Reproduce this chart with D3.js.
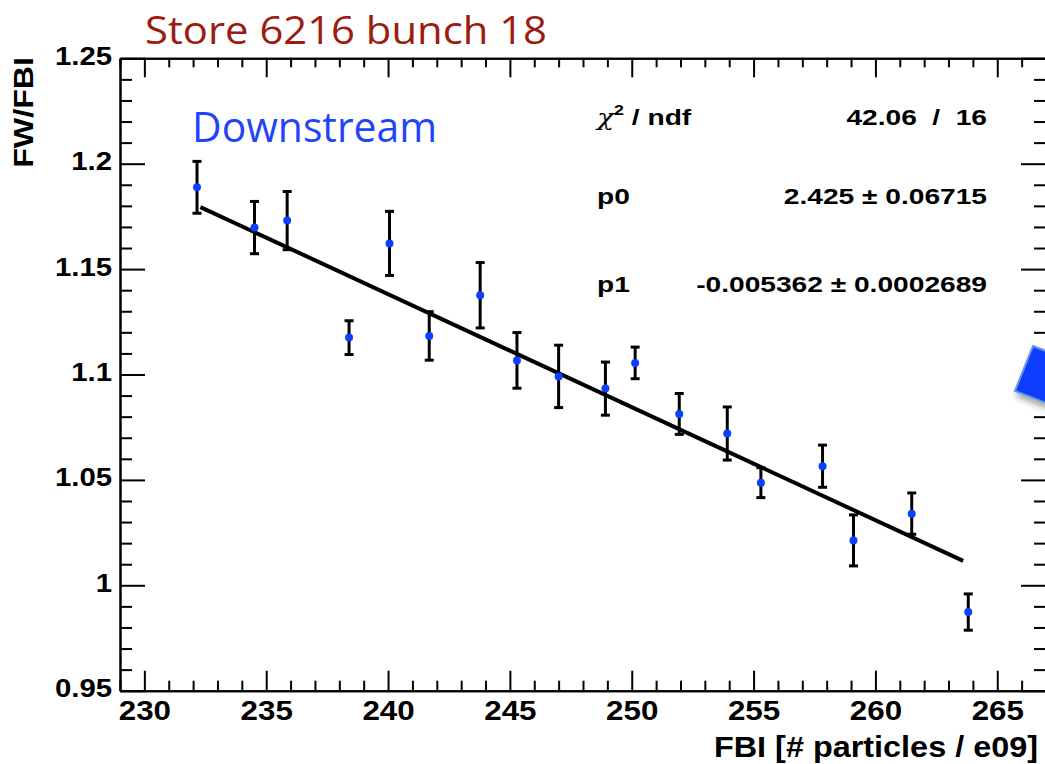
<!DOCTYPE html>
<html>
<head>
<meta charset="utf-8">
<script src="https://cdn.jsdelivr.net/npm/d3@7"></script>
<style>
  html, body { margin: 0; padding: 0; background: #fff; }
  svg { display: block; }
</style>
</head>
<body>
<svg id="chart" width="1045" height="764"></svg>
<script>
// ---- data ----
const fbi   = [232.16, 234.52, 235.86, 238.40, 240.06, 241.69, 243.78, 245.29, 247.00,
               248.92, 250.14, 251.95, 253.92, 255.30, 257.83, 259.10, 261.49, 263.81];
const ratio = [1.1888, 1.1697, 1.1730, 1.1175, 1.1622, 1.1183, 1.1376, 1.1067, 1.0991,
               1.0933, 1.1055, 1.0813, 1.0720, 1.0487, 1.0565, 1.0213, 1.0340, 0.9873];
const err   = [0.0123, 0.0124, 0.0138, 0.0080, 0.0152, 0.0115, 0.0155, 0.0132, 0.0148,
               0.0126, 0.0075, 0.0097, 0.0126, 0.0071, 0.0100, 0.0121, 0.0098, 0.0086];
const fitParams = [2.425, -0.005362];
const fitRange  = [232.3, 263.6];
const xTicks = [230, 235, 240, 245, 250, 255, 260, 265];
const yTicks = [0.95, 1.0, 1.05, 1.1, 1.15, 1.2, 1.25];
const yTickLabels = ["0.95", "1", "1.05", "1.1", "1.15", "1.2", "1.25"];
const statNames  = ["χ2 / ndf", "p0", "p1"];
const statValues = ["42.06 / 16", "2.425 ± 0.06715", "-0.005362 ± 0.0002689"];
const titleText = "Store 6216 bunch 18";
const tagText = "Downstream";
const xTitle = "FBI [# particles / e09]";
const yTitle = "FW/FBI";

// ---- layout ----
const svg = d3.select("#chart");
const pLeft = 120, pRight = 1046, pTop = 58.3, pBottom = 690.7;
const x = d3.scaleLinear().domain([229, 267]).range([pLeft, pRight]);
const y = d3.scaleLinear().domain([0.95, 1.25]).range([pBottom, pTop]);

const xMinor = d3.range(229, 268, 1).filter(v => !xTicks.includes(v));
const yMinor = d3.range(95, 126, 1).map(v => v / 100).filter(v => !yTicks.some(t => Math.abs(t - v) < 1e-9));

const axisFont = "'Liberation Sans', Arial, Helvetica, sans-serif";

function styleAxis(g) {
  g.selectAll("path.domain").attr("stroke", "#000").attr("stroke-width", 2);
  g.selectAll(".tick line").attr("stroke", "#000").attr("stroke-width", 2);
}

// bottom axis
const gb = svg.append("g").attr("transform", `translate(0,${pBottom})`)
  .call(d3.axisBottom(x).tickValues(xTicks).tickSizeInner(-20).tickSizeOuter(0).tickPadding(8)
        .tickFormat(d3.format("d")));
styleAxis(gb);
gb.selectAll(".tick text").attr("font-family", axisFont).attr("font-weight", "bold")
  .attr("font-size", 28.5).attr("fill", "#000").attr("dy", null).attr("y", 29.5)
  .attr("transform", "scale(1.1,1)");
const gbm = svg.append("g").attr("transform", `translate(0,${pBottom})`)
  .call(d3.axisBottom(x).tickValues(xMinor).tickSizeInner(-10).tickSizeOuter(0).tickFormat(""));
styleAxis(gbm);

// top axis
const gt = svg.append("g").attr("transform", `translate(0,${pTop})`)
  .call(d3.axisTop(x).tickValues(xTicks).tickSizeInner(-19).tickSizeOuter(0).tickFormat(""));
styleAxis(gt);
const gtm = svg.append("g").attr("transform", `translate(0,${pTop})`)
  .call(d3.axisTop(x).tickValues(xMinor).tickSizeInner(-9).tickSizeOuter(0).tickFormat(""));
styleAxis(gtm);

// left axis
const gl = svg.append("g").attr("transform", `translate(${pLeft},0)`)
  .call(d3.axisLeft(y).tickValues(yTicks).tickSizeInner(-25).tickSizeOuter(0).tickPadding(7)
        .tickFormat((d, i) => yTickLabels[i]));
styleAxis(gl);
gl.selectAll(".tick text").attr("font-family", axisFont).attr("font-weight", "bold")
  .attr("font-size", 26).attr("fill", "#000").attr("dy", null).attr("y", 6)
  .attr("transform", "scale(1.13,1)");
const glm = svg.append("g").attr("transform", `translate(${pLeft},0)`)
  .call(d3.axisLeft(y).tickValues(yMinor).tickSizeInner(-12).tickSizeOuter(0).tickFormat(""));
styleAxis(glm);

// right axis
const gr = svg.append("g").attr("transform", `translate(${pRight},0)`)
  .call(d3.axisRight(y).tickValues(yTicks).tickSizeInner(-25).tickSizeOuter(0).tickFormat(""));
styleAxis(gr);
const grm = svg.append("g").attr("transform", `translate(${pRight},0)`)
  .call(d3.axisRight(y).tickValues(yMinor).tickSizeInner(-12).tickSizeOuter(0).tickFormat(""));
styleAxis(grm);

// fit line
const fitPts = fitRange.map(v => [v, fitParams[0] + fitParams[1] * v]);
svg.append("path")
  .attr("d", d3.line().x(d => x(d[0])).y(d => y(d[1]))(fitPts))
  .attr("stroke", "#000").attr("stroke-width", 4).attr("fill", "none");

// error bars
const pts = fbi.map((v, i) => ({ x: v, y: ratio[i], e: err[i] }));
const eb = svg.append("g").attr("stroke", "#000").attr("stroke-width", 3);
eb.selectAll("line.v").data(pts).join("line").attr("class", "v")
  .attr("x1", d => x(d.x)).attr("x2", d => x(d.x))
  .attr("y1", d => y(d.y + d.e)).attr("y2", d => y(d.y - d.e));
eb.selectAll("line.t").data(pts).join("line").attr("class", "t")
  .attr("x1", d => x(d.x) - 4.5).attr("x2", d => x(d.x) + 4.5)
  .attr("y1", d => y(d.y + d.e)).attr("y2", d => y(d.y + d.e));
eb.selectAll("line.b").data(pts).join("line").attr("class", "b")
  .attr("x1", d => x(d.x) - 4.5).attr("x2", d => x(d.x) + 4.5)
  .attr("y1", d => y(d.y - d.e)).attr("y2", d => y(d.y - d.e));

// points
svg.append("g").selectAll("circle").data(pts).join("circle")
  .attr("cx", d => x(d.x)).attr("cy", d => y(d.y)).attr("r", 4)
  .attr("fill", "#0a40ff");

// stats box text
const statY = [125, 203.5, 291.5];
statNames.forEach((n, i) => {
  const g = svg.append("g").attr("transform", `translate(597,${statY[i]}) scale(1.28,1)`);
  const t = g.append("text").attr("font-family", axisFont).attr("font-weight", "bold")
    .attr("font-size", 22).attr("fill", "#000");
  if (i === 0) {
    t.append("tspan").attr("font-family", "'DejaVu Serif', serif").attr("font-weight", "normal")
      .attr("font-style", "italic").text("χ");
    t.append("tspan").attr("font-size", 14).attr("dy", -10).text("2");
    t.append("tspan").attr("dy", 10).text(" / ndf");
  } else {
    t.text(n);
  }
  const g2 = svg.append("g").attr("transform", `translate(987,${statY[i]}) scale(1.28,1)`);
  g2.append("text").attr("font-family", axisFont).attr("font-weight", "bold")
    .attr("font-size", 22).attr("fill", "#000").attr("text-anchor", "end")
    .style("word-spacing", i === 0 ? "6px" : "0px")
    .text(statValues[i]);
});

// axis titles
svg.append("g").attr("transform", "translate(1038,757) scale(1.08,1)")
  .append("text").attr("font-family", axisFont).attr("font-weight", "bold")
  .attr("font-size", 30).attr("text-anchor", "end").attr("fill", "#000").text(xTitle);
svg.append("g").attr("transform", "translate(33,57) rotate(-90) scale(1.15,1)")
  .append("text").attr("font-family", axisFont).attr("font-weight", "bold")
  .attr("font-size", 28).attr("text-anchor", "end").attr("fill", "#000").text(yTitle);

// title and tag
svg.append("text").attr("x", 145).attr("y", 44)
  .attr("font-family", "'Open Sans', 'Noto Sans', sans-serif").attr("font-size", 38)
  .attr("fill", "#9b1c10").attr("textLength", 402).attr("lengthAdjust", "spacingAndGlyphs")
  .text(titleText);
svg.append("text").attr("x", 192).attr("y", 142)
  .attr("font-family", "'Open Sans', 'Noto Sans', sans-serif").attr("font-size", 42)
  .attr("fill", "#1f45fa").attr("textLength", 245).attr("lengthAdjust", "spacingAndGlyphs")
  .text(tagText);

// decorative blue shape at right edge (partial arrow from slide)
const defs = svg.append("defs");
const f = defs.append("filter").attr("id", "sh").attr("x", "-50%").attr("y", "-50%")
  .attr("width", "200%").attr("height", "200%");
f.append("feDropShadow").attr("dx", 2).attr("dy", 5).attr("stdDeviation", 3)
  .attr("flood-color", "#000").attr("flood-opacity", 0.35);
svg.append("polygon")
  .attr("points", "1033,346 1046,351 1046,403 1015,391")
  .attr("fill", "#0a3cff").attr("stroke", "#6a95e0").attr("stroke-width", 2)
  .attr("filter", "url(#sh)");
</script>
</body>
</html>
